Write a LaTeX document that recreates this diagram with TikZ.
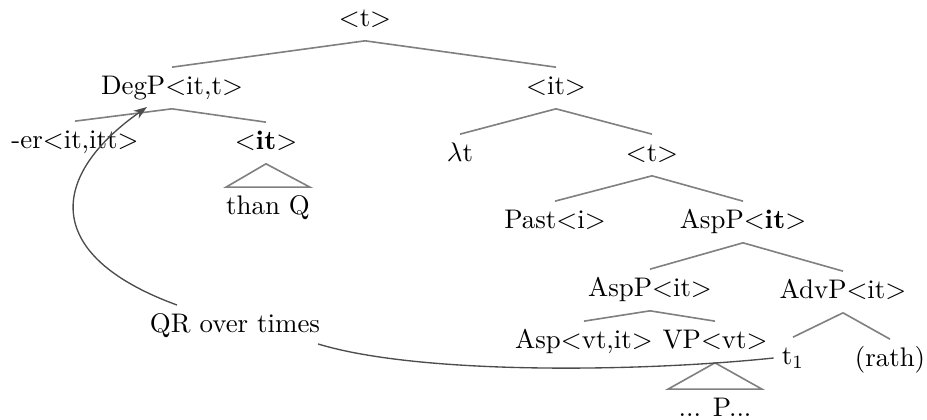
\documentclass[tikz,border=0pt]{standalone}
\usetikzlibrary{calc,arrows.meta}
\begin{document}
\begin{tikzpicture}[x=0.372pt,y=-0.372pt,
  lbl/.style={inner sep=2.8pt,text height=7pt,text depth=2.5pt,anchor=center},
  branch/.style={draw=black!50,line width=0.6pt},
  roof/.style={draw=black!50,line width=0.6pt,line join=miter},
  movement/.style={draw=black!70,line width=0.5pt}]
\useasboundingbox (0,0) rectangle (927,420);

% tree labels
\node[lbl] (root)  at (365,20)  {$<$t$>$};
\node[lbl] (degp)  at (172,88)  {DegP$<$it,t$>$};
\node[lbl] (itR)   at (556,88)  {$<$it$>$};
\node[lbl] (er)    at (75,142)  {-er$<$it,itt$>$};
\node[lbl] (itB)   at (266,143) {$<$\textbf{it}$>$};
\node[lbl] (thanq) at (268,208) {than Q};
\node[lbl] (lam)   at (460,155) {$\lambda$t};
\node[lbl] (tmid)  at (652,155) {$<$t$>$};
\node[lbl] (past)  at (555,222) {Past$<$i$>$};
\node[lbl] (aspA)  at (743,222) {AspP$<$\textbf{it}$>$};
\node[lbl] (aspB)  at (650,290) {AspP$<$it$>$};
\node[lbl] (advp)  at (843,292) {AdvP$<$it$>$};
\node[lbl] (asp)   at (584,342) {Asp$<$vt,it$>$};
\node[lbl] (vp)    at (715,342) {VP$<$vt$>$};
\node[lbl] (tone)  at (793,358) {t$_1$};
\node[lbl] (rath)  at (890,360) {(rath)};
\node[lbl] (pp)    at (715,410) {... P...};
\node[lbl] (qr)    at (235,326) {QR over times};

% branches
\foreach \p/\c in {root/degp,root/itR,degp/er,degp/itB,itR/lam,itR/tmid,
                   tmid/past,tmid/aspA,aspA/aspB,aspA/advp,aspB/asp,aspB/vp,
                   advp/tone,advp/rath}
  \draw[branch] (\p.south) -- (\c.north);

% roofs over unanalysed constituents
\draw[roof] (itB.south) -- ($(thanq.north)+(-42,0)$) -- ($(thanq.north)+(42,0)$) -- cycle;
\draw[roof] (vp.south) -- ($(pp.north)+(-47,0)$) -- ($(pp.north)+(47,0)$) -- cycle;

% movement path
\coordinate (qrup)  at (177,305);
\coordinate (qrtip) at (147,107);
\draw[movement] (tone.west) .. controls (640,372) and (420,375) .. ($(qr.east)+(-10,18)$);
\draw[movement,-{Stealth[length=5pt,width=3.5pt]}] (qrup) .. controls (40,255) and (50,175) .. (qrtip);
\end{tikzpicture}
\end{document}
